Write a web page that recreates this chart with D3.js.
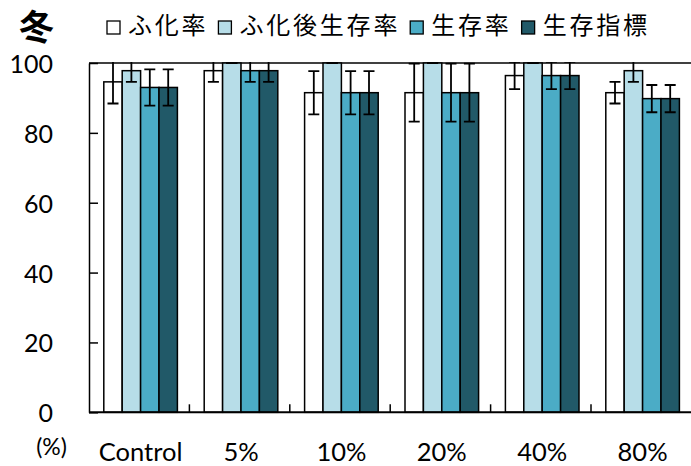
<!DOCTYPE html>
<html>
<head>
<meta charset="utf-8">
<script src="https://cdn.jsdelivr.net/npm/d3@7"></script>
<style>
  body { margin: 0; background: #fff; }
  text { fill: #000; }
</style>
</head>
<body>
<svg id="chart" width="691" height="466"></svg>
<script>
// data
const categories = ["Control", "5%", "10%", "20%", "40%", "80%"];
const seriesNames = ["ふ化率", "ふ化後生存率", "生存率", "生存指標"];
const hatchRate = [94.6, 97.8, 91.5, 91.5, 96.4, 91.5];
const postHatchSurvival = [97.8, 100, 100, 100, 100, 97.8];
const survivalRate = [93.0, 97.8, 91.5, 91.5, 96.4, 89.8];
const survivalIndex = [93.0, 97.8, 91.5, 91.5, 96.4, 89.8];
const hatchRateErr = [6.2, 3.2, 6.2, 8.3, 3.9, 3.1];
const postHatchErr = [3.2, 0, 0, 0, 0, 3.2];
const survivalRateErr = [5.2, 3.2, 6.2, 8.3, 3.9, 3.9];
const survivalIndexErr = [5.2, 3.2, 6.2, 8.3, 3.9, 3.9];
const yTicks = [0, 20, 40, 60, 80, 100];
const colors = ["#ffffff", "#b7dde8", "#4bacc6", "#215968"];

const seriesValues = [hatchRate, postHatchSurvival, survivalRate, survivalIndex];
const seriesErrors = [hatchRateErr, postHatchErr, survivalRateErr, survivalIndexErr];

const latin = "Lato, 'DejaVu Sans', sans-serif";
const cjk = "'Noto Sans CJK JP', sans-serif";

let svg = d3.select("#chart");

let plotLeft = 89, plotRight = 691.4, plotTop = 63, plotBottom = 412.3;

let x = d3.scaleBand()
    .domain(categories)
    .range([plotLeft, plotRight])
    .padding(0);

let inner = d3.scaleBand()
    .domain(seriesNames)
    .range([14.8, 14.8 + 73.6])
    .padding(0);

let y = d3.scaleLinear()
    .domain([0, 100])
    .range([plotBottom, plotTop]);

// rows: one per bar
let rows = [];
seriesNames.forEach((s, si) => {
  categories.forEach((c, ci) => {
    rows.push({ series: s, cat: c, value: seriesValues[si][ci], err: seriesErrors[si][ci], color: colors[si] });
  });
});

// top border line at 100
svg.append("line")
    .attr("x1", plotLeft)
    .attr("x2", plotRight)
    .attr("y1", y(100))
    .attr("y2", y(100))
    .attr("stroke", "#000")
    .attr("stroke-width", 1.5);

// bars
svg.append("g")
  .selectAll("rect")
  .data(rows)
  .join("rect")
    .attr("x", d => x(d.cat) + inner(d.series))
    .attr("y", d => y(d.value))
    .attr("width", inner.bandwidth())
    .attr("height", d => y(0) - y(d.value))
    .attr("fill", d => d.color)
    .attr("stroke", "#000")
    .attr("stroke-width", 1.5);

// error bars, clipped at the plot top
svg.append("clipPath")
    .attr("id", "plot-clip")
  .append("rect")
    .attr("x", 0)
    .attr("y", plotTop - 1)
    .attr("width", 691)
    .attr("height", plotBottom - plotTop + 3);

let errG = svg.append("g").attr("clip-path", "url(#plot-clip)");
let capW = 11;

rows.forEach(d => {
  let cx = x(d.cat) + inner(d.series) + inner.bandwidth() / 2;
  let yHi = y(d.value + d.err), yLo = y(d.value - d.err);
  errG.append("line")
      .attr("x1", cx).attr("x2", cx)
      .attr("y1", yHi).attr("y2", yLo)
      .attr("stroke", "#000").attr("stroke-width", 1.8);
  [yHi, yLo].forEach(yy => {
    errG.append("line")
        .attr("x1", cx - capW / 2).attr("x2", cx + capW / 2)
        .attr("y1", yy).attr("y2", yy)
        .attr("stroke", "#000").attr("stroke-width", 1.8);
  });
});

// y axis, ticks pointing inward
let yAxis = svg.append("g")
    .attr("transform", `translate(${plotLeft},0)`)
    .call(d3.axisLeft(y).tickValues(yTicks).tickSizeInner(-9).tickSizeOuter(0).tickPadding(36));
yAxis.select(".domain").attr("stroke", "#000").attr("stroke-width", 1.5);
yAxis.selectAll(".tick line").attr("stroke", "#000").attr("stroke-width", 1.5);
yAxis.selectAll(".tick text")
    .style("font-family", latin)
    .style("font-size", "25px")
    .attr("dy", "0.38em")
    .attr("fill", "#000");

// baseline
svg.append("line")
    .attr("x1", plotLeft)
    .attr("x2", plotRight)
    .attr("y1", y(0))
    .attr("y2", y(0))
    .attr("stroke", "#000")
    .attr("stroke-width", 2);

// category divider ticks
svg.append("g")
  .selectAll("line")
  .data(categories.slice(1))
  .join("line")
    .attr("x1", d => x(d))
    .attr("x2", d => x(d))
    .attr("y1", y(0))
    .attr("y2", y(0) - 8)
    .attr("stroke", "#000")
    .attr("stroke-width", 1.5);

// category labels
svg.append("g")
  .selectAll("text")
  .data(categories)
  .join("text")
    .attr("x", d => x(d) + inner.range()[0] + (inner.range()[1] - inner.range()[0]) / 2)
    .attr("y", 461)
    .attr("text-anchor", "middle")
    .style("font-family", latin)
    .style("font-size", "25.5px")
    .text(d => d);

svg.append("text")
    .attr("x", 51.5)
    .attr("y", 455)
    .attr("text-anchor", "middle")
    .style("font-family", latin)
    .style("font-size", "23px")
    .text("(%)");

// season title
svg.append("text")
    .attr("x", 36.5)
    .attr("y", 40)
    .attr("text-anchor", "middle")
    .style("font-family", cjk)
    .style("font-size", "35px")
    .style("font-weight", "bold")
    .text("冬");

// legend
let legend = svg.append("g");
let lx = 107;
seriesNames.forEach((s, i) => {
  legend.append("rect")
      .attr("x", lx)
      .attr("y", 21)
      .attr("width", 13)
      .attr("height", 13)
      .attr("fill", colors[i])
      .attr("stroke", "#000")
      .attr("stroke-width", 1.3);
  let t = legend.append("text")
      .attr("x", lx + 21)
      .attr("y", 34)
      .style("font-family", cjk)
      .style("font-size", "24px")
      .style("letter-spacing", "2.8px")
      .text(s);
  lx += 21 + t.node().getComputedTextLength() + 10;
});
</script>
</body>
</html>
